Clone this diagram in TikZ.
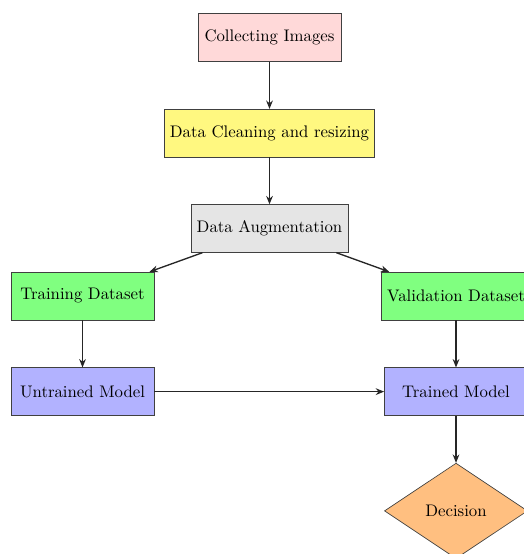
\documentclass[tikz,border=0pt]{standalone}
\usetikzlibrary{shapes.geometric,arrows.meta}
\begin{document}
\begin{tikzpicture}[
  box/.style={rectangle, draw=black!75, minimum width=3cm, minimum height=1cm, align=center},
  choice/.style={diamond, draw=black!75, minimum width=3cm, minimum height=2cm, inner sep=0pt},
  link/.style={-{Stealth[length=5pt,width=4pt]}, thick, black!85}
]
\clip (0,0) rectangle (10.985,-11.614);
\useasboundingbox (0,0) rectangle (10.985,-11.614);

\node[box, fill=red!15]    (collect)   at (5.65,-0.786) {Collecting Images};
\node[box, fill=yellow!50] (clean)     at (5.65,-2.79)  {Data Cleaning and resizing};
\node[box, fill=gray!20]   (augment)   at (5.65,-4.79)  {Data Augmentation};
\node[box, fill=green!50]  (train)     at (1.73,-6.205) {Training Dataset};
\node[box, fill=green!50]  (valid)     at (9.56,-6.205) {Validation Dataset};
\node[box, fill=blue!30]   (untrained) at (1.73,-8.21)  {Untrained Model};
\node[box, fill=blue!30]   (trained)   at (9.56,-8.21)  {Trained Model};
\node[choice, fill=orange!50] (decide) at (9.56,-10.71) {Decision};

\draw[link] (collect) -- (clean);
\draw[link] (clean) -- (augment);
\draw[link] (augment) -- (train);
\draw[link] (augment) -- (valid);
\draw[link] (train) -- (untrained);
\draw[link] (valid) -- (trained);
\draw[link] (untrained) -- (trained);
\draw[link] (trained) -- (decide);
\end{tikzpicture}
\end{document}
